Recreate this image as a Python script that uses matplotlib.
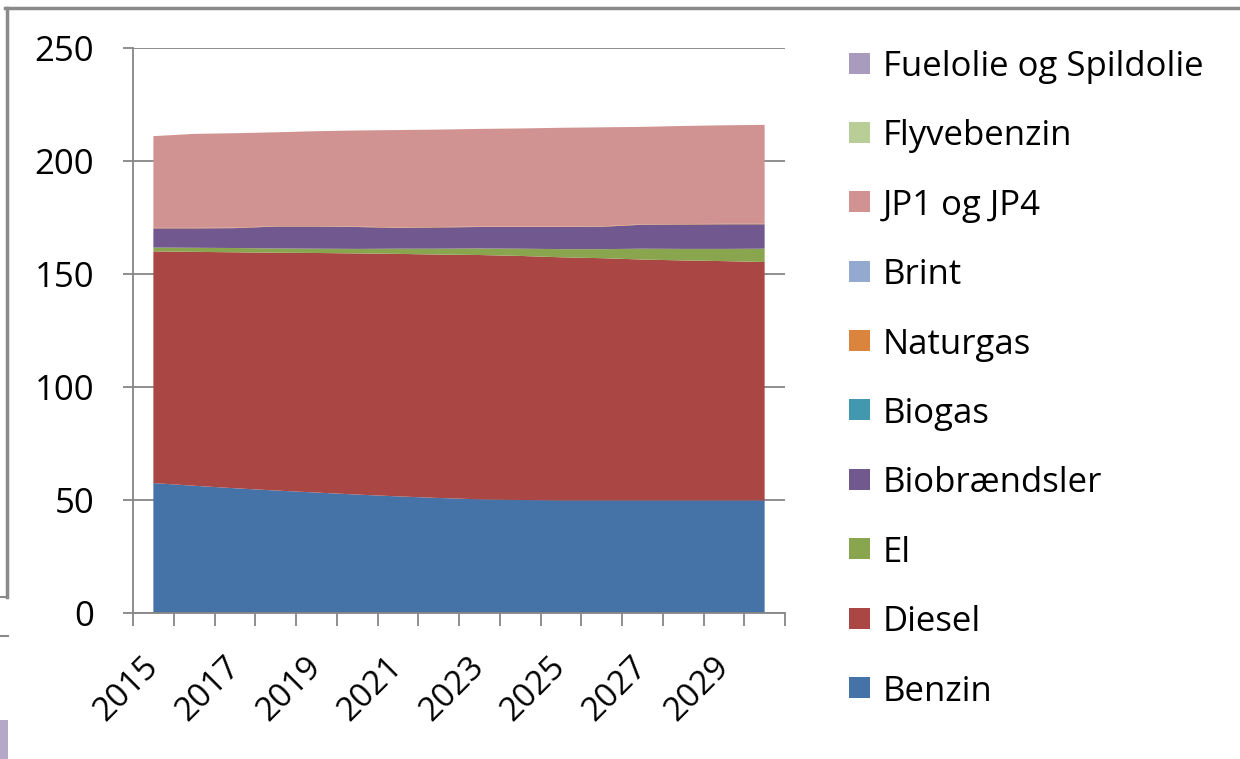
import numpy as np
import matplotlib
matplotlib.use("Agg")
import matplotlib.pyplot as plt
from matplotlib.patches import Rectangle
from matplotlib.lines import Line2D

years = list(range(2015, 2031))
tick_labels = ["2015", "2017", "2019", "2021", "2023", "2025", "2027", "2029"]

# values (PJ)
benzin = [57.5, 56.3, 55.2, 54.2, 53.3, 52.4, 51.6, 50.9, 50.3, 50.0, 49.8, 49.8, 49.8, 49.8, 49.8, 49.8]
diesel = [102.5, 103.5, 104.4, 105.2, 106.0, 106.7, 107.3, 107.7, 108.1, 108.0, 107.6, 107.2, 106.6, 106.2, 105.9, 105.5]
el = [1.7, 1.8, 1.9, 1.9, 1.9, 2.0, 2.3, 2.6, 2.9, 3.2, 3.6, 4.0, 4.8, 5.1, 5.4, 5.9]
biobraendsler = [8.5, 8.6, 8.8, 9.7, 9.8, 9.7, 9.2, 9.4, 9.5, 9.6, 9.8, 9.9, 10.6, 10.8, 10.9, 10.8]
biogas = [0.0] * 16
naturgas = [0.2] * 16
brint = [0.0] * 16
jp1_jp4 = [40.6, 41.6, 41.8, 41.5, 42.0, 42.5, 43.1, 43.1, 43.2, 43.4, 43.7, 43.8, 43.1, 43.4, 43.6, 43.8]
flyvebenzin = [0.0] * 16
fuelolie = [0.0] * 16

series_names = ["Benzin", "Diesel", "El", "Biobrændsler", "Biogas", "Naturgas",
                "Brint", "JP1 og JP4", "Flyvebenzin", "Fuelolie og Spildolie"]
series_values = [benzin, diesel, el, biobraendsler, biogas, naturgas,
                 brint, jp1_jp4, flyvebenzin, fuelolie]
series_colors = ["#4572A7", "#AA4643", "#89A54E", "#71588F", "#4198AF", "#DB843D",
                 "#93A9CF", "#D19392", "#B9CD96", "#A99BBD"]

FONT = "Open Sans"
plt.rcParams['font.family'] = [FONT, 'DejaVu Sans']

W, H = 1240, 759
fig = plt.figure(figsize=(W / 100, H / 100), dpi=100)

x_left, x_right = 133, 785
y_top, y_bottom = 48, 613
ax = fig.add_axes([x_left / W, 1 - y_bottom / H, (x_right - x_left) / W, (y_bottom - y_top) / H])

x = np.arange(len(years))
ax.stackplot(x, *series_values, colors=series_colors, linewidth=0, zorder=2)

ax.set_xlim(-0.5, len(years) - 0.5)
ax.set_ylim(0, 250)
ax.set_yticks([0, 50, 100, 150, 200, 250])
grid_c = "#868686"
ax.yaxis.grid(True, color=grid_c, linewidth=1.3, zorder=1)
ax.set_axisbelow(True)

for s in ["top", "right"]:
    ax.spines[s].set_visible(False)
for s in ["left", "bottom"]:
    ax.spines[s].set_color(grid_c)
    ax.spines[s].set_linewidth(1.3)

# boundary ticks between categories
ax.set_xticks(np.arange(-0.5, len(years), 1.0))
ax.set_xticklabels([])
ax.tick_params(axis="x", which="major", length=9, width=1.3, color=grid_c, direction="out")
centers = [years.index(int(t)) for t in tick_labels]
ax.set_xticks(centers, minor=True)
ax.set_xticklabels(tick_labels, minor=True, rotation=45, ha="right", va="center",
                   rotation_mode="anchor", fontsize=24, fontfamily=FONT)
ax.tick_params(axis="x", which="minor", length=0, pad=35)

ax.tick_params(axis="y", length=7, width=1.3, color=grid_c, labelsize=25, pad=21)
for lbl in ax.get_yticklabels():
    lbl.set_fontfamily(FONT)

# legend drawn manually (reverse order, top to bottom)
row_y0 = 63
row_dy = 69.4
sq = 21
for i, (name, col) in enumerate(zip(series_names[::-1], series_colors[::-1])):
    cy = row_y0 + i * row_dy
    fig.patches.append(Rectangle((849 / W, 1 - (cy + sq / 2) / H), sq / W, sq / H,
                                 transform=fig.transFigure, facecolor=col,
                                 edgecolor="none"))
    fig.text(883 / W, 1 - cy / H, name, fontsize=25, fontfamily=FONT,
             va="center_baseline", ha="left", color="#000000")

# outer frame of the screenshot
frame_c = "#8a8a8a"
fig.add_artist(Line2D([5 / W, 1], [1 - 8 / H, 1 - 8 / H], transform=fig.transFigure,
                      color=frame_c, linewidth=2.5))
fig.add_artist(Line2D([7 / W, 7 / W], [1 - 597 / H, 1 - 8 / H], transform=fig.transFigure,
                      color=frame_c, linewidth=2.5))
for yy in (597, 636):
    fig.add_artist(Line2D([0, 8 / W], [1 - yy / H, 1 - yy / H], transform=fig.transFigure,
                          color=frame_c, linewidth=1.5))
fig.patches.append(Rectangle((0, 0), 8 / W, 39 / H, transform=fig.transFigure,
                             facecolor="#b4a7c8", edgecolor="none"))

fig.savefig("out.png", dpi=100)
